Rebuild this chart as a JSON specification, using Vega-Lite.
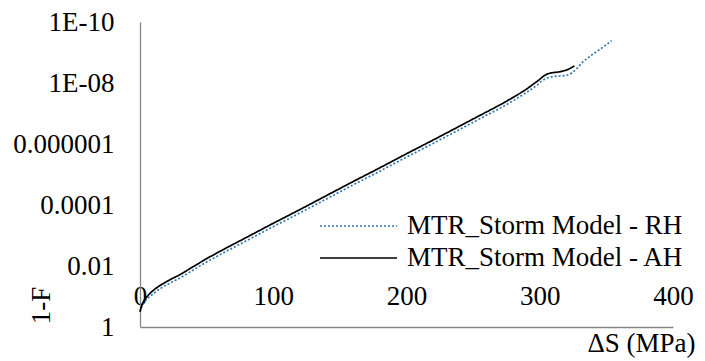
{
  "$schema": "https://vega.github.io/schema/vega-lite/v6.json",
  "width": 533,
  "height": 305,
  "autosize": {"type": "none"},
  "padding": {"left": 140, "top": 22, "right": 32, "bottom": 34},
  "background": "white",
  "config": {"view": {"stroke": null}, "font": "Liberation Serif"},
  "data": {
    "values": [
      {"series": "MTR_Storm Model - RH", "dS": 0, "oneMinusF": 0.3162},
      {"series": "MTR_Storm Model - RH", "dS": 1, "oneMinusF": 0.2344},
      {"series": "MTR_Storm Model - RH", "dS": 2, "oneMinusF": 0.1862},
      {"series": "MTR_Storm Model - RH", "dS": 3, "oneMinusF": 0.1585},
      {"series": "MTR_Storm Model - RH", "dS": 4, "oneMinusF": 0.138},
      {"series": "MTR_Storm Model - RH", "dS": 5, "oneMinusF": 0.123},
      {"series": "MTR_Storm Model - RH", "dS": 7.5, "oneMinusF": 0.1},
      {"series": "MTR_Storm Model - RH", "dS": 10, "oneMinusF": 0.08128},
      {"series": "MTR_Storm Model - RH", "dS": 15, "oneMinusF": 0.05623},
      {"series": "MTR_Storm Model - RH", "dS": 20, "oneMinusF": 0.04169},
      {"series": "MTR_Storm Model - RH", "dS": 30, "oneMinusF": 0.02455},
      {"series": "MTR_Storm Model - RH", "dS": 40, "oneMinusF": 0.01349},
      {"series": "MTR_Storm Model - RH", "dS": 50, "oneMinusF": 0.007413},
      {"series": "MTR_Storm Model - RH", "dS": 60, "oneMinusF": 0.004266},
      {"series": "MTR_Storm Model - RH", "dS": 80, "oneMinusF": 0.001479},
      {"series": "MTR_Storm Model - RH", "dS": 100, "oneMinusF": 5.129e-4},
      {"series": "MTR_Storm Model - RH", "dS": 120, "oneMinusF": 1.82e-4},
      {"series": "MTR_Storm Model - RH", "dS": 140, "oneMinusF": 6.31e-5},
      {"series": "MTR_Storm Model - RH", "dS": 160, "oneMinusF": 2.188e-5},
      {"series": "MTR_Storm Model - RH", "dS": 180, "oneMinusF": 7.762e-6},
      {"series": "MTR_Storm Model - RH", "dS": 200, "oneMinusF": 2.692e-6},
      {"series": "MTR_Storm Model - RH", "dS": 220, "oneMinusF": 9.55e-7},
      {"series": "MTR_Storm Model - RH", "dS": 240, "oneMinusF": 3.311e-7},
      {"series": "MTR_Storm Model - RH", "dS": 260, "oneMinusF": 1.148e-7},
      {"series": "MTR_Storm Model - RH", "dS": 270, "oneMinusF": 6.761e-8},
      {"series": "MTR_Storm Model - RH", "dS": 280, "oneMinusF": 3.802e-8},
      {"series": "MTR_Storm Model - RH", "dS": 290, "oneMinusF": 2.042e-8},
      {"series": "MTR_Storm Model - RH", "dS": 298, "oneMinusF": 1.175e-8},
      {"series": "MTR_Storm Model - RH", "dS": 302, "oneMinusF": 8.318e-9},
      {"series": "MTR_Storm Model - RH", "dS": 306, "oneMinusF": 6.761e-9},
      {"series": "MTR_Storm Model - RH", "dS": 310, "oneMinusF": 6.166e-9},
      {"series": "MTR_Storm Model - RH", "dS": 315, "oneMinusF": 5.888e-9},
      {"series": "MTR_Storm Model - RH", "dS": 320, "oneMinusF": 5.623e-9},
      {"series": "MTR_Storm Model - RH", "dS": 324, "oneMinusF": 4.677e-9},
      {"series": "MTR_Storm Model - RH", "dS": 328, "oneMinusF": 3.311e-9},
      {"series": "MTR_Storm Model - RH", "dS": 332, "oneMinusF": 2.089e-9},
      {"series": "MTR_Storm Model - RH", "dS": 336, "oneMinusF": 1.514e-9},
      {"series": "MTR_Storm Model - RH", "dS": 340, "oneMinusF": 1.122e-9},
      {"series": "MTR_Storm Model - RH", "dS": 345, "oneMinusF": 7.943e-10},
      {"series": "MTR_Storm Model - RH", "dS": 350, "oneMinusF": 5.495e-10},
      {"series": "MTR_Storm Model - RH", "dS": 354, "oneMinusF": 4.074e-10},
      {"series": "MTR_Storm Model - AH", "dS": 0, "oneMinusF": 0.3162},
      {"series": "MTR_Storm Model - AH", "dS": 1, "oneMinusF": 0.2188},
      {"series": "MTR_Storm Model - AH", "dS": 2, "oneMinusF": 0.166},
      {"series": "MTR_Storm Model - AH", "dS": 3, "oneMinusF": 0.138},
      {"series": "MTR_Storm Model - AH", "dS": 4, "oneMinusF": 0.1202},
      {"series": "MTR_Storm Model - AH", "dS": 5, "oneMinusF": 0.1047},
      {"series": "MTR_Storm Model - AH", "dS": 7.5, "oneMinusF": 0.07943},
      {"series": "MTR_Storm Model - AH", "dS": 10, "oneMinusF": 0.0631},
      {"series": "MTR_Storm Model - AH", "dS": 15, "oneMinusF": 0.04365},
      {"series": "MTR_Storm Model - AH", "dS": 20, "oneMinusF": 0.03236},
      {"series": "MTR_Storm Model - AH", "dS": 30, "oneMinusF": 0.01905},
      {"series": "MTR_Storm Model - AH", "dS": 40, "oneMinusF": 0.01047},
      {"series": "MTR_Storm Model - AH", "dS": 50, "oneMinusF": 0.005754},
      {"series": "MTR_Storm Model - AH", "dS": 60, "oneMinusF": 0.003311},
      {"series": "MTR_Storm Model - AH", "dS": 80, "oneMinusF": 0.001148},
      {"series": "MTR_Storm Model - AH", "dS": 100, "oneMinusF": 3.981e-4},
      {"series": "MTR_Storm Model - AH", "dS": 120, "oneMinusF": 1.413e-4},
      {"series": "MTR_Storm Model - AH", "dS": 140, "oneMinusF": 4.898e-5},
      {"series": "MTR_Storm Model - AH", "dS": 160, "oneMinusF": 1.698e-5},
      {"series": "MTR_Storm Model - AH", "dS": 180, "oneMinusF": 6.026e-6},
      {"series": "MTR_Storm Model - AH", "dS": 200, "oneMinusF": 2.089e-6},
      {"series": "MTR_Storm Model - AH", "dS": 220, "oneMinusF": 7.413e-7},
      {"series": "MTR_Storm Model - AH", "dS": 240, "oneMinusF": 2.57e-7},
      {"series": "MTR_Storm Model - AH", "dS": 260, "oneMinusF": 8.913e-8},
      {"series": "MTR_Storm Model - AH", "dS": 270, "oneMinusF": 5.248e-8},
      {"series": "MTR_Storm Model - AH", "dS": 280, "oneMinusF": 2.951e-8},
      {"series": "MTR_Storm Model - AH", "dS": 290, "oneMinusF": 1.585e-8},
      {"series": "MTR_Storm Model - AH", "dS": 296, "oneMinusF": 1.023e-8},
      {"series": "MTR_Storm Model - AH", "dS": 300, "oneMinusF": 7.586e-9},
      {"series": "MTR_Storm Model - AH", "dS": 303, "oneMinusF": 5.888e-9},
      {"series": "MTR_Storm Model - AH", "dS": 306, "oneMinusF": 5.012e-9},
      {"series": "MTR_Storm Model - AH", "dS": 310, "oneMinusF": 4.571e-9},
      {"series": "MTR_Storm Model - AH", "dS": 314, "oneMinusF": 4.365e-9},
      {"series": "MTR_Storm Model - AH", "dS": 318, "oneMinusF": 3.981e-9},
      {"series": "MTR_Storm Model - AH", "dS": 322, "oneMinusF": 3.467e-9},
      {"series": "MTR_Storm Model - AH", "dS": 326, "oneMinusF": 2.754e-9}
    ]
  },
  "mark": {"type": "line", "interpolate": "monotone", "strokeWidth": 1.7},
  "encoding": {
    "x": {
      "field": "dS",
      "type": "quantitative",
      "scale": {"domain": [0, 400], "nice": false, "zero": false},
      "axis": {
        "values": [0, 100, 200, 300, 400],
        "title": "ΔS (MPa)",
        "grid": false,
        "ticks": false,
        "tickSize": 0,
        "labelPadding": -23,
        "labelBaseline": "alphabetic",
        "labelFlush": false,
        "labelFont": "Liberation Serif",
        "labelFontSize": 27,
        "labelColor": "#000000",
        "domainColor": "#868686",
        "domainWidth": 1.3,
        "titleFont": "Liberation Serif",
        "titleFontSize": 27,
        "titleFontWeight": "normal",
        "titleColor": "#000000",
        "titleX": 555,
        "titleY": 16,
        "titleAlign": "right",
        "titleBaseline": "middle"
      }
    },
    "y": {
      "field": "oneMinusF",
      "type": "quantitative",
      "scale": {"type": "log", "domain": [1e-10, 1], "reverse": true, "nice": false},
      "axis": {
        "values": [1, 0.01, 0.0001, 0.000001, 1e-8, 1e-10],
        "labelExpr": "['1', '', '0.01', '', '0.0001', '', '0.000001', '', '1E-08', '', '1E-10'][-round(log(datum.value) / LN10)]",
        "title": "1-F",
        "grid": false,
        "ticks": false,
        "tickSize": 0,
        "labelPadding": 26,
        "labelFont": "Liberation Serif",
        "labelFontSize": 27,
        "labelColor": "#000000",
        "domainColor": "#868686",
        "domainWidth": 1.3,
        "titleFont": "Liberation Serif",
        "titleFontSize": 27,
        "titleFontWeight": "normal",
        "titleColor": "#000000",
        "titleAngle": -90,
        "titleX": -99,
        "titleY": 283,
        "titleAlign": "center",
        "titleBaseline": "middle"
      }
    },
    "color": {
      "field": "series",
      "type": "nominal",
      "scale": {
        "domain": ["MTR_Storm Model - RH", "MTR_Storm Model - AH"],
        "range": ["#2E75B6", "#000000"]
      },
      "legend": {
        "title": null,
        "orient": "none",
        "legendX": 179,
        "legendY": 191,
        "padding": 0,
        "symbolType": "stroke",
        "symbolSize": 5929,
        "symbolStrokeWidth": 1.7,
        "clipHeight": 26,
        "rowPadding": 5,
        "labelOffset": 9,
        "labelLimit": 0,
        "labelFont": "Liberation Serif",
        "labelFontSize": 27,
        "labelColor": "#000000"
      }
    },
    "strokeDash": {
      "field": "series",
      "type": "nominal",
      "scale": {
        "domain": ["MTR_Storm Model - RH", "MTR_Storm Model - AH"],
        "range": [[2, 2], [1, 0]]
      }
    }
  }
}
